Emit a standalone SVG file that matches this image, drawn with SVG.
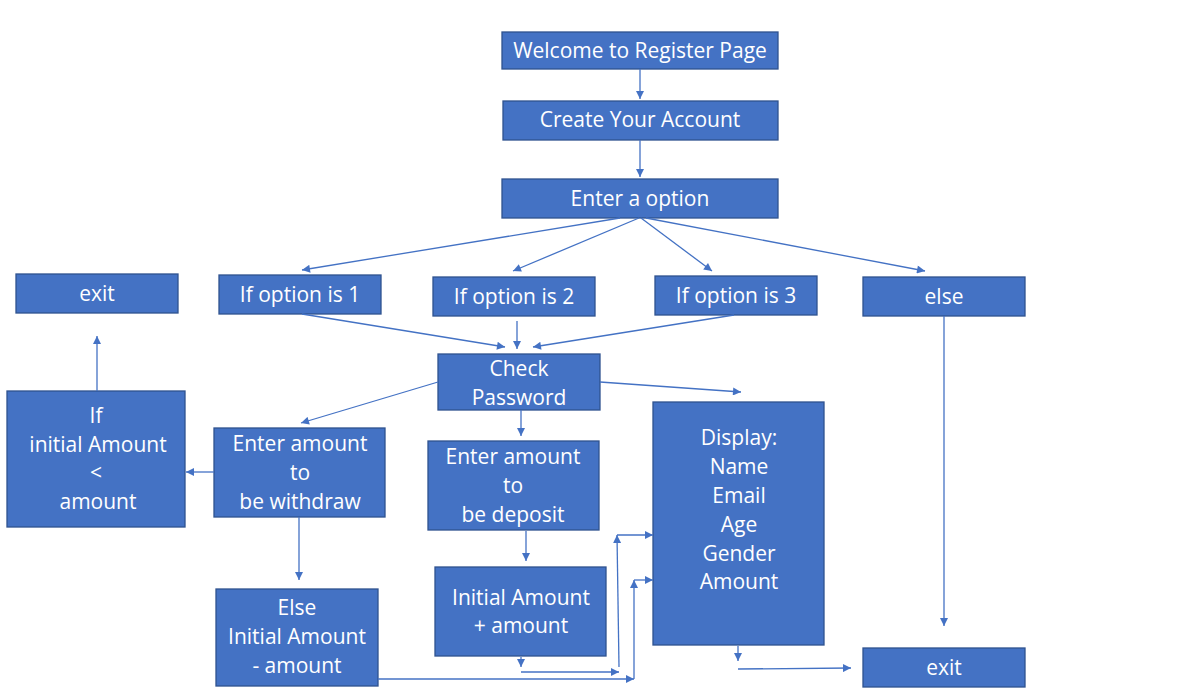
<svg xmlns="http://www.w3.org/2000/svg" width="1180" height="695" viewBox="0 0 1180 695">
<defs>
<marker id="ah" viewBox="0 0 10 10" refX="10" refY="5" markerWidth="9" markerHeight="8" markerUnits="userSpaceOnUse" orient="auto"><path d="M0,0 L10,5 L0,10 z" fill="#4472C4"/></marker>
<style>
.box{fill:#4472C4;stroke:#2F528F;stroke-width:1.3}
.t{font-family:"Open Sans","Noto Sans",sans-serif;font-size:21px;fill:#fff;text-anchor:middle}
.c{fill:none;stroke:#4472C4;stroke-width:1.3;marker-end:url(#ah)}
.p{fill:none;stroke:#4472C4;stroke-width:1.3}
</style>
</defs>
<rect width="1180" height="695" fill="#fff"/>
<g id="welcome"><rect class="box" x="502" y="32" width="276" height="37"/><text class="t" x="640" y="58">Welcome to Register Page</text></g>
<g id="create"><rect class="box" x="503" y="101" width="275" height="39"/><text class="t" x="640" y="127">Create Your Account</text></g>
<g id="option"><rect class="box" x="502" y="179" width="276" height="39"/><text class="t" x="640" y="206">Enter a option</text></g>
<g id="exit1"><rect class="box" x="16" y="274" width="162" height="39"/><text class="t" x="97" y="301">exit</text></g>
<g id="opt1"><rect class="box" x="219" y="275" width="162" height="39"/><text class="t" x="300" y="302">If option is 1</text></g>
<g id="opt2"><rect class="box" x="433" y="277" width="162" height="39"/><text class="t" x="514" y="304">If option is 2</text></g>
<g id="opt3"><rect class="box" x="655" y="276" width="162" height="39"/><text class="t" x="736" y="303">If option is 3</text></g>
<g id="else"><rect class="box" x="863" y="277" width="162" height="39"/><text class="t" x="944" y="304">else</text></g>
<g id="check"><rect class="box" x="438" y="354" width="162" height="56"/><text class="t" x="519" y="376">Check</text><text class="t" x="519" y="405">Password</text></g>
<g id="ifinit"><rect class="box" x="7" y="391" width="178" height="136"/><text class="t" x="96" y="423">If</text><text class="t" x="98" y="452">initial Amount</text><text class="t" x="96" y="480">&lt;</text><text class="t" x="98" y="509">amount</text></g>
<g id="withdraw"><rect class="box" x="214" y="428" width="171" height="89"/><text class="t" x="300" y="451">Enter amount</text><text class="t" x="300" y="480">to</text><text class="t" x="300" y="509">be withdraw</text></g>
<g id="deposit"><rect class="box" x="428" y="441" width="171" height="89"/><text class="t" x="513" y="464">Enter amount</text><text class="t" x="513" y="493">to</text><text class="t" x="513" y="522">be deposit</text></g>
<g id="display"><rect class="box" x="653" y="402" width="171" height="243"/><text class="t" x="739" y="445">Display:</text><text class="t" x="739" y="474">Name</text><text class="t" x="739" y="503">Email</text><text class="t" x="739" y="532">Age</text><text class="t" x="739" y="561">Gender</text><text class="t" x="739" y="589">Amount</text></g>
<g id="elsesub"><rect class="box" x="216" y="589" width="162" height="97"/><text class="t" x="297" y="615">Else</text><text class="t" x="297" y="644">Initial Amount</text><text class="t" x="297" y="673">- amount</text></g>
<g id="plus"><rect class="box" x="435" y="567" width="171" height="89"/><text class="t" x="521" y="605">Initial Amount</text><text class="t" x="521" y="633">+ amount</text></g>
<g id="exit2"><rect class="box" x="863" y="648" width="162" height="39"/><text class="t" x="944" y="675">exit</text></g>
<g id="connectors">
<path class="c" d="M640,69 L640,99"/>
<path class="c" d="M640,140 L640,177"/>
<path class="c" d="M620,218 L302,270"/>
<path class="c" d="M639,218 L513,271"/>
<path class="c" d="M641,218 L712,271"/>
<path class="c" d="M646,218 L925,271"/>
<path class="c" d="M302,314 L505,347"/>
<path class="c" d="M517,321 L517,349"/>
<path class="c" d="M734,315 L533,347"/>
<path class="c" d="M438,382 L301,423"/>
<path class="c" d="M521,410 L521,436"/>
<path class="c" d="M600,382 L741,392"/>
<path class="c" d="M214,472 L186,472"/>
<path class="c" d="M97,391 L97,336"/>
<path class="c" d="M299,517 L299,580"/>
<path class="c" d="M526,531 L526,561"/>
<path class="c" d="M521,657 L521,667"/>
<path class="c" d="M521,672 L619,672"/>
<path class="c" d="M378,679 L634,679"/>
<path class="c" d="M619,667 L617,535"/>
<path class="c" d="M617,535 L653,535"/>
<path class="c" d="M634,679 L634,580"/>
<path class="c" d="M634,580 L653,580"/>
<path class="c" d="M738,646 L738,661"/>
<path class="c" d="M738,669 L851,668"/>
<path class="c" d="M944,316 L944,626"/>
</g>
</svg>
